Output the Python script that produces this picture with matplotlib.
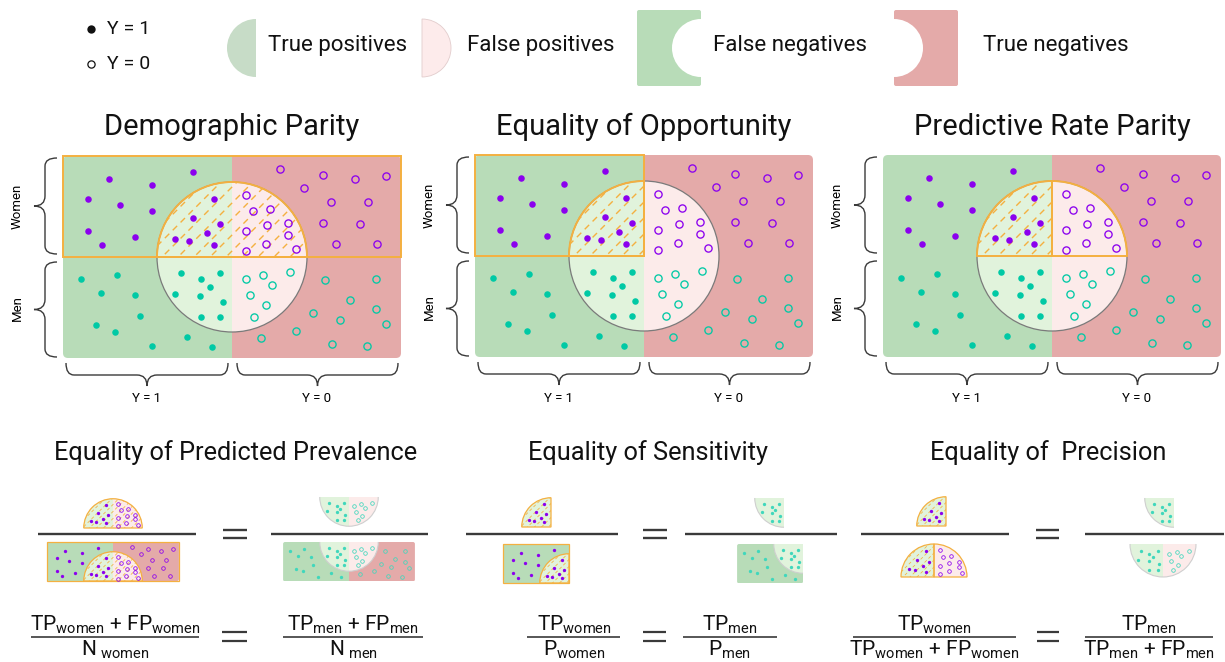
import numpy as np
import matplotlib
matplotlib.use("Agg")
import matplotlib.pyplot as plt
from matplotlib.patches import Wedge, Rectangle, FancyBboxPatch, PathPatch, Circle, Arc
from matplotlib.path import Path

plt.rcParams['font.family'] = ['Roboto', 'DejaVu Sans']
plt.rcParams['mathtext.fontset'] = 'custom'
plt.rcParams['mathtext.rm'] = 'Roboto'
plt.rcParams['mathtext.it'] = 'Roboto:italic'
plt.rcParams['mathtext.bf'] = 'Roboto:bold'
plt.rcParams['lines.scale_dashes'] = False

# point offsets (px) from the centre of the women/men x Y=1/Y=0 grid, same in every panel
women_pos_out = [(-123, -78), (-80, -72), (-39, -85), (-144, -58), (-112, -52), (-80, -46),
                 (-144, -26), (-97, -20), (-130, -12)]
women_pos_in = [(-18, -58), (-39, -39), (-12, -33), (-25, -24), (-57, -18), (-43, -16), (-18, -12)]
women_neg_in = [(14, -62), (21, -46), (38, -48), (14, -26), (35, -32), (56, -34), (56, -22),
                (34, -13), (64, -8), (14, -6)]
women_neg_out = [(48, -88), (91, -82), (123, -78), (154, -81), (72, -69), (99, -55), (136, -55),
                 (91, -34), (128, -33), (104, -13), (145, -13)]
men_pos_out = [(-151, 22), (-115, 18), (-131, 36), (-97, 38), (-92, 59), (-136, 68), (-117, 75),
               (-80, 89), (-45, 80), (-20, 90)]
men_pos_in = [(-51, 16), (-31, 22), (-12, 16), (-22, 30), (-57, 37), (-32, 39), (-9, 45),
              (-31, 60), (-12, 60)]
men_neg_in = [(14, 22), (31, 18), (58, 15), (40, 28), (18, 38), (34, 48), (22, 60)]
men_neg_out = [(93, 23), (144, 22), (118, 43), (81, 56), (108, 63), (144, 52), (154, 67),
               (64, 74), (29, 81), (100, 87), (135, 89)]

panel_titles = ["Demographic Parity", "Equality of Opportunity", "Predictive Rate Parity"]
metric_titles = ["Equality of Predicted Prevalence", "Equality of Sensitivity", "Equality of  Precision"]
legend_labels = ["True positives", "False positives", "False negatives", "True negatives"]

GREEN = '#b8dcb8'
RED = '#e4aaa9'
LGREEN = '#e1f3dc'
LPINK = '#fcebea'
PURPLE = '#8b00ee'
TEAL = '#00c9a5'
ORANGE = '#f4b040'
GRAY = '#7a7a7a'
INK = '#3a3a3a'

R = 75     # circle radius
HW = 169   # half width of grid
HH = 101   # height of one row

WEDGE_ANG = {'TPw': (180, 270), 'FPw': (270, 360), 'TPm': (90, 180), 'FPm': (0, 90)}
WEDGE_COL = {'TPw': LGREEN, 'FPw': LPINK, 'TPm': LGREEN, 'FPm': LPINK}
GROUPS = {
    'wp_out': (women_pos_out, PURPLE, True), 'wp_in': (women_pos_in, PURPLE, True),
    'wn_out': (women_neg_out, PURPLE, False), 'wn_in': (women_neg_in, PURPLE, False),
    'mp_out': (men_pos_out, TEAL, True), 'mp_in': (men_pos_in, TEAL, True),
    'mn_out': (men_neg_out, TEAL, False), 'mn_in': (men_neg_in, TEAL, False),
}
CELL_KEYS = {'wp': ['wp_out', 'wp_in'], 'wn': ['wn_out', 'wn_in'],
             'mp': ['mp_out', 'mp_in'], 'mn': ['mn_out', 'mn_in']}
WEDGE_KEYS = {'TPw': ['wp_in'], 'FPw': ['wn_in'], 'TPm': ['mp_in'], 'FPm': ['mn_in']}


def cell_box(cx, cy, s, cell):
    x0 = cx - HW * s if cell[1] == 'p' else cx
    y0 = cy - HH * s if cell[0] == 'w' else cy
    return x0, y0, HW * s, HH * s


def fade(c, a):
    rgb = np.array(matplotlib.colors.to_rgb(c))
    return tuple(a * rgb + (1 - a))


def draw_group(ax, cx, cy, s, cells=(), wedges=(), hatched=(), orange_box=(),
               orange_wedges=(), full=False, faded=False):
    if cells:
        boxes = [cell_box(cx, cy, s, c) for c in cells]
        x0 = min(b[0] for b in boxes); y0 = min(b[1] for b in boxes)
        x1 = max(b[0] + b[2] for b in boxes); y1 = max(b[1] + b[3] for b in boxes)
        clip = FancyBboxPatch((x0, y0), x1 - x0, y1 - y0,
                              boxstyle=f"round,pad=0,rounding_size={5 * s}",
                              fc='none', ec='none')
        ax.add_patch(clip)
        for c, b in zip(cells, boxes):
            rect = Rectangle(b[:2], b[2], b[3], fc=GREEN if c[1] == 'p' else RED, ec='none')
            ax.add_patch(rect)
            rect.set_clip_path(clip)
    wp = {}
    for w in wedges:
        a1, a2 = WEDGE_ANG[w]
        p = Wedge((cx, cy), R * s, a1, a2, fc=WEDGE_COL[w], ec='none')
        ax.add_patch(p)
        wp[w] = p
    if full:
        ax.add_patch(Circle((cx, cy), R * s, fill=False, ec=GRAY, lw=0.9))
    elif faded:
        for w in wedges:
            a1, a2 = WEDGE_ANG[w]
            ax.add_patch(Arc((cx, cy), 2 * R * s, 2 * R * s, theta1=a1, theta2=a2,
                             ec='#cfcfcf', lw=0.8))
    step = 16 * s if full else 7
    for w in hatched:
        for c in np.arange(cx + cy - 2 * R * s, cx + cy + 2 * R * s, step):
            xs = np.array([cx - R * s, cx + R * s])
            ln, = ax.plot(xs, c - xs, color=ORANGE, lw=1.0 if full else 0.55,
                          ls=(0, (4.5, 3.5) if full else (2.2, 1.8)))
            ln.set_clip_path(wp[w])
    elw = 1.4 if full else 0.9
    if orange_box:
        boxes = [cell_box(cx, cy, s, c) for c in orange_box]
        x0 = min(b[0] for b in boxes); y0 = min(b[1] for b in boxes)
        x1 = max(b[0] + b[2] for b in boxes); y1 = max(b[1] + b[3] for b in boxes)
        ax.add_patch(Rectangle((x0, y0), x1 - x0, y1 - y0, fill=False, ec=ORANGE, lw=elw))
    for a1, a2 in orange_wedges:
        ax.add_patch(Wedge((cx, cy), R * s, a1, a2, fill=False, ec=ORANGE, lw=elw))
    # points
    keys = []
    for c in cells:
        keys += CELL_KEYS[c[0] + c[1]]
    for w in wedges:
        keys += [k for k in WEDGE_KEYS[w] if k not in keys]
    for k in keys:
        pts, col, filled = GROUPS[k]
        if faded:
            col = fade(col, 0.75)
        xs = [cx + s * p[0] for p in pts]
        ys = [cy + s * p[1] for p in pts]
        if filled:
            ax.plot(xs, ys, 'o', ls='none', ms=4.7 if full else 2.4, mfc=col, mec='none')
        else:
            ax.plot(xs, ys, 'o', ls='none', ms=5.2 if full else 2.6, mfc='none', mec=col,
                    mew=0.95 if full else 0.55)


def brace(ax, u1, u2, base, horizontal, r=10, v1=12, v2=23):
    um = (u1 + u2) / 2
    pts = [(u1, 0), (u1, v1), (u1 + r * 0.8, v1), (um - r, v1), (um, v1), (um, v2),
           (um, v1), (um + r, v1), (u2 - r * 0.8, v1), (u2, v1), (u2, 0)]
    codes = [Path.MOVETO, Path.CURVE3, Path.CURVE3, Path.LINETO, Path.CURVE3, Path.CURVE3,
             Path.CURVE3, Path.CURVE3, Path.LINETO, Path.CURVE3, Path.CURVE3]
    if horizontal:
        verts = [(u, base + v) for u, v in pts]
    else:
        verts = [(base - v, u) for u, v in pts]
    ax.add_patch(PathPatch(Path(verts, codes), fill=False, ec=INK, lw=1.0))


fig = plt.figure(figsize=(12.25, 6.62), dpi=100)
ax = fig.add_axes([0, 0, 1, 1])
ax.set_xlim(0, 1225)
ax.set_ylim(662, 0)
ax.axis('off')

# ---- legend ----
ax.plot([91], [29], 'o', ms=6, mfc='#111111', mec='none')
ax.plot([91], [64], 'o', ms=5.2, mfc='white', mec='#111111', mew=0.9)
ax.text(107, 29, "Y = 1", fontsize=14, va='center', color='#111111')
ax.text(107, 64, "Y = 0", fontsize=14, va='center', color='#111111')
ax.add_patch(Wedge((256, 48), 29, 90, 270, fc='#c7dcc7', ec='none'))
ax.add_patch(Wedge((422, 48), 29, 270, 90, fc='#fdebeb', ec='#e2cccc', lw=0.6))
ax.add_patch(FancyBboxPatch((637, 10), 64, 76, boxstyle="round,pad=0,rounding_size=2", fc=GREEN, ec='none'))
ax.add_patch(Wedge((701, 48), 29, 90, 270, fc='white', ec='none'))
ax.add_patch(FancyBboxPatch((894, 10), 64, 76, boxstyle="round,pad=0,rounding_size=2", fc=RED, ec='none'))
ax.add_patch(Wedge((894, 48), 29, 270, 90, fc='white', ec='none'))
for x, lab in zip([268, 467, 713, 983], legend_labels):
    ax.text(x, 46, lab, fontsize=16, va='center', color='#111111')

# ---- top panels ----
panel_cx = [232, 644, 1052]
panel_cy = [257, 256, 256]
all_cells = [('w', 'p'), ('w', 'n'), ('m', 'p'), ('m', 'n')]
all_wedges = ['TPw', 'FPw', 'TPm', 'FPm']
specs = [
    dict(hatched=['TPw', 'FPw'], orange_box=[('w', 'p'), ('w', 'n')], orange_wedges=[(180, 360)]),
    dict(hatched=['TPw'], orange_box=[('w', 'p')], orange_wedges=[(180, 270)]),
    dict(hatched=['TPw'], orange_box=[], orange_wedges=[(180, 270), (270, 360)]),
]
for cx, cy, title, sp in zip(panel_cx, panel_cy, panel_titles, specs):
    ax.text(cx, 127, title, fontsize=21, ha='center', va='center', color='#111111')
    draw_group(ax, cx, cy, 1.0, cells=all_cells, wedges=all_wedges, full=True, **sp)
    left = cx - HW
    brace(ax, cy - 99, cy - 3, left - 6, False)
    brace(ax, cy + 5, cy + 100, left - 6, False)
    ax.text(left - 46, cy - 51, "Women", fontsize=9.5, rotation=90, ha='center', va='center')
    ax.text(left - 46, cy + 51, "Men", fontsize=9.5, rotation=90, ha='center', va='center')
    brace(ax, cx - 166, cx - 4, cy + HH + 5, True)
    brace(ax, cx + 5, cx + 166, cy + HH + 5, True)
    ax.text(cx - 85, cy + 142, "Y = 1", fontsize=9.5, ha='center', va='center')
    ax.text(cx + 85, cy + 142, "Y = 0", fontsize=9.5, ha='center', va='center')

# ---- bottom: metric titles ----
for x, t in zip([236, 648, 1048], metric_titles):
    ax.text(x, 453, t, fontsize=18.3, ha='center', va='center', color='#111111')

# col 1: predicted prevalence
draw_group(ax, 113, 528, 0.39, wedges=['TPw', 'FPw'], hatched=['TPw', 'FPw'], orange_wedges=[(180, 360)])
draw_group(ax, 113, 581, 0.39, cells=[('w', 'p'), ('w', 'n')], wedges=['TPw', 'FPw'],
           hatched=['TPw', 'FPw'], orange_box=[('w', 'p'), ('w', 'n')], orange_wedges=[(180, 360)])
draw_group(ax, 349, 497, 0.39, wedges=['TPm', 'FPm'], faded=True)
draw_group(ax, 349, 542, 0.39, cells=[('m', 'p'), ('m', 'n')], wedges=['TPm', 'FPm'], faded=True)
# col 2: sensitivity
draw_group(ax, 551, 527, 0.39, wedges=['TPw'], hatched=['TPw'], orange_wedges=[(180, 270)])
draw_group(ax, 569, 583, 0.39, cells=[('w', 'p')], wedges=['TPw'], hatched=['TPw'],
           orange_box=[('w', 'p')], orange_wedges=[(180, 270)])
draw_group(ax, 784, 498, 0.39, wedges=['TPm'], faded=True)
draw_group(ax, 803, 544, 0.39, cells=[('m', 'p')], wedges=['TPm'], faded=True)
# col 3: precision
draw_group(ax, 946, 526, 0.39, wedges=['TPw'], hatched=['TPw'], orange_wedges=[(180, 270)])
draw_group(ax, 934, 577, 0.44, wedges=['TPw', 'FPw'], hatched=['TPw'],
           orange_wedges=[(180, 270), (270, 360)])
draw_group(ax, 1174, 498, 0.39, wedges=['TPm'], faded=True)
draw_group(ax, 1163, 544, 0.44, wedges=['TPm', 'FPm'], faded=True)

# fraction bars and equal signs for the icon row
icon_bars = [((38, 196), (271, 428)), ((466, 618), (685, 837)), ((861, 1009), (1085, 1224))]
icon_eq = [(223, 247), (643, 667), (1036, 1059)]
for (l, r), (e1, e2) in zip(icon_bars, icon_eq):
    ax.plot(l, [534, 534], color=INK, lw=1.7, solid_capstyle='butt')
    ax.plot(r, [534, 534], color=INK, lw=1.7, solid_capstyle='butt')
    ax.plot([e1, e2], [530, 530], color=INK, lw=1.7, solid_capstyle='butt')
    ax.plot([e1, e2], [538, 538], color=INK, lw=1.7, solid_capstyle='butt')

# formulas
W = r"$_{\mathrm{women}}$"
M = r"$_{\mathrm{men}}$"
formulas = [
    ("TP" + W + " + FP" + W, r"N$_{\ \mathrm{women}}$", 115, (31, 199),
     "TP" + M + " + FP" + M, r"N$_{\ \mathrm{men}}$", 353, (283, 423), (222, 247)),
    ("TP" + W, "P" + W, 574, (527, 620),
     "TP" + M, "P" + M, 730, (683, 777), (643, 666)),
    ("TP" + W, "TP" + W + " + FP" + W, 934, (853, 1016),
     "TP" + M, "TP" + M + " + FP" + M, 1149, (1085, 1213), (1037, 1059)),
]
for ln, ld, lx, lbar, rn, rd, rx, rbar, eq in formulas:
    for num, den, x, bar in [(ln, ld, lx, lbar), (rn, rd, rx, rbar)]:
        ax.text(x, 631, num, fontsize=15, ha='center', va='baseline', color='#111111')
        ax.text(x, 656, den, fontsize=15, ha='center', va='baseline', color='#111111')
        ax.plot(bar, [637, 637], color=INK, lw=1.2, solid_capstyle='butt')
    ax.plot(eq, [632, 632], color=INK, lw=1.6, solid_capstyle='butt')
    ax.plot(eq, [641, 641], color=INK, lw=1.6, solid_capstyle='butt')

fig.savefig("out.png", dpi=100)
